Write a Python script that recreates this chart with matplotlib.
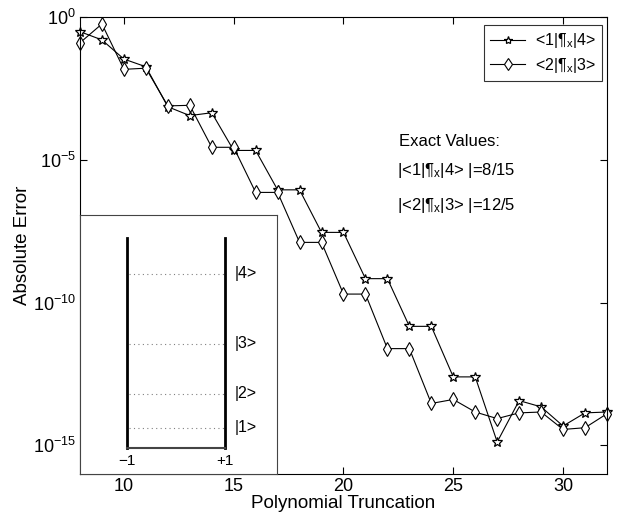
import numpy as np
import matplotlib
matplotlib.use("Agg")
import matplotlib.pyplot as plt

plt.rcParams['font.family'] = ['Liberation Sans', 'DejaVu Sans']
plt.rcParams['mathtext.fontset'] = 'custom'
plt.rcParams['mathtext.rm'] = 'Liberation Sans'
plt.rcParams['mathtext.it'] = 'Liberation Sans'

# polynomial truncation order
truncation = list(range(8, 33))
# log10 of absolute error
log_err_14 = [-0.51, -0.80, -1.47, -1.74, -3.14, -3.45, -3.35, -4.67, -4.67, -6.05, -6.05,
              -7.54, -7.54, -9.16, -9.16, -10.83, -10.83, -12.60, -12.60, -14.88, -13.43,
              -13.65, -14.32, -13.86, -13.83]
log_err_23 = [-0.90, -0.24, -1.83, -1.79, -3.11, -3.09, -4.56, -4.56, -6.14, -6.14, -7.89,
              -7.89, -9.70, -9.70, -11.61, -11.61, -13.53, -13.39, -13.83, -14.06, -13.86,
              -13.83, -14.44, -14.38, -13.89]

# inset: square well levels (arbitrary units above the well bottom)
well_bottom = 26
well_top = 236
levels = [46, 80, 130, 200]
level_labels = ['|1>', '|2>', '|3>', '|4>']

fig = plt.figure(figsize=(6.2, 5.27), dpi=100)
ax = fig.add_axes([0.129, 0.1006, 0.850, 0.867])

ax.semilogy(truncation, 10.0 ** np.array(log_err_14), '-', color='black', lw=0.8,
            marker='*', ms=7.5, mfc='white', mec='black', mew=0.9, clip_on=False,
            label='<1|¶$_{x}$|4>')
ax.semilogy(truncation, 10.0 ** np.array(log_err_23), '-', color='black', lw=0.8,
            marker='d', ms=7.5, mfc='white', mec='black', mew=0.8, clip_on=False,
            label='<2|¶$_{x}$|3>')

ax.set_xlim(8, 32)
ax.set_ylim(1e-16, 1e0)
ax.set_xticks([10, 15, 20, 25, 30])
ax.set_yticks([1e0, 1e-5, 1e-10, 1e-15])
ax.yaxis.set_minor_locator(matplotlib.ticker.NullLocator())
ax.tick_params(direction='in', top=True, right=True, labelsize=13, length=5, pad=3)
ax.set_xlabel('Polynomial Truncation', fontsize=13.5, labelpad=0)
ax.set_ylabel('Absolute Error', fontsize=13.5, labelpad=1)

leg = ax.legend(loc='upper right', fontsize=11.5, frameon=True, fancybox=False,
                edgecolor='black', handlelength=2.2, handletextpad=0.6, borderpad=0.4,
                labelspacing=0.35, borderaxespad=0, markerscale=0.8,
                bbox_to_anchor=(0.9905, 0.9825))
leg.get_frame().set_linewidth(0.8)

ax.text(0.605, 0.7177, 'Exact Values:', transform=ax.transAxes, fontsize=12, va='baseline')
ax.text(0.6015, 0.6543, '|<1|¶$_{x}$|4> |=8/15', transform=ax.transAxes, fontsize=12,
        va='baseline')
ax.text(0.6015, 0.5777, '|<2|¶$_{x}$|3> |=12/5', transform=ax.transAxes, fontsize=12,
        va='baseline')

# inset with the square well
ins = fig.add_axes([0.129, 0.1006, 0.3177, 0.4915])
ins.set_zorder(5)
ins.set_facecolor('white')
ins.set_xlim(-1.95, 2.05)
ins.set_ylim(0, 259)
ins.set_xticks([])
ins.set_yticks([])
for s in ins.spines.values():
    s.set_linewidth(0.8)
    s.set_color('#444444')
ins.plot([-1, -1], [well_bottom, well_top], color='black', lw=2)
ins.plot([1, 1], [well_bottom, well_top], color='black', lw=2)
ins.plot([-1, 1], [well_bottom, well_bottom], color='#444444', lw=1.5)
for lev, lab in zip(levels, level_labels):
    ins.plot([-0.95, 1], [lev, lev], color='gray', lw=0.8, ls=(0, (1, 3)))
    ins.text(1.2, lev, lab, fontsize=11.5, va='center', ha='left')
ins.text(-1, 13, '\u22121', fontsize=11, ha='center', va='center')
ins.text(1, 13, '+1', fontsize=11, ha='center', va='center')

fig.savefig('out.png', dpi=100)
